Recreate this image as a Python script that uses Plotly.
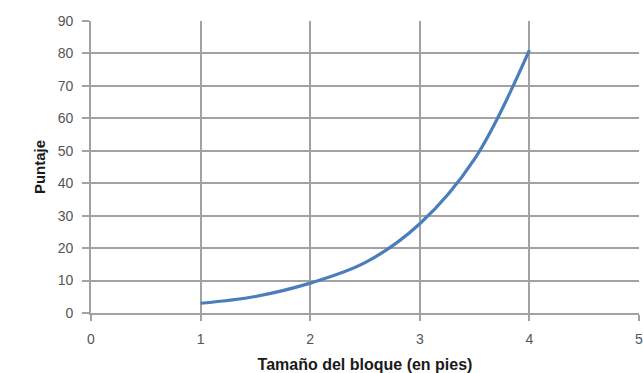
import plotly.graph_objects as go

# Block size (feet) vs. score
tamano = [1, 1.5, 2, 2.5, 3, 3.5, 4]
puntaje = [3, 5.1, 9.2, 15.5, 27.5, 47.5, 81]

x_ticks = [0, 1, 2, 3, 4, 5]
y_ticks = [0, 10, 20, 30, 40, 50, 60, 70, 80, 90]

grid_color = "#a2a2a2"
tick_font = dict(family="Liberation Sans, Arial, sans-serif", size=14, color="#555555")
title_font = dict(family="Liberation Sans, Arial, sans-serif", size=16, color="#1a1a1a")

fig = go.Figure()
fig.add_trace(go.Scatter(
    x=tamano, y=puntaje, mode="lines",
    line=dict(color="#4a7ebb", width=3.2, shape="spline", smoothing=1.0),
    showlegend=False, hoverinfo="skip",
))

fig.update_layout(
    width=643, height=373,
    margin=dict(l=91, r=0, t=21, b=60),
    paper_bgcolor="white", plot_bgcolor="white",
    xaxis=dict(
        range=[0, 5], tickvals=x_ticks, ticktext=[str(v) for v in x_ticks],
        showgrid=True, gridcolor=grid_color, gridwidth=1.8,
        zeroline=False, showline=True, linecolor=grid_color, linewidth=1.8,
        ticks="outside", ticklen=6, tickcolor=grid_color, tickwidth=1.8,
        tickfont=tick_font, ticklabeloverflow="allow", ticklabelstandoff=6,
        title=dict(text="<b>Tamaño del bloque (en pies)</b>", font=title_font, standoff=15),
    ),
    yaxis=dict(
        range=[0, 90], tickvals=y_ticks, ticktext=[str(v) for v in y_ticks],
        showgrid=True, gridcolor=grid_color, gridwidth=1.8,
        zeroline=False, showline=True, linecolor=grid_color, linewidth=1.8,
        ticks="outside", ticklen=7, tickcolor=grid_color, tickwidth=1.8,
        tickfont=tick_font, ticklabelstandoff=6,
        title=dict(text="<b>Puntaje</b>", font=dict(title_font, size=15), standoff=8),
    ),
)

fig.write_html("out.html")
